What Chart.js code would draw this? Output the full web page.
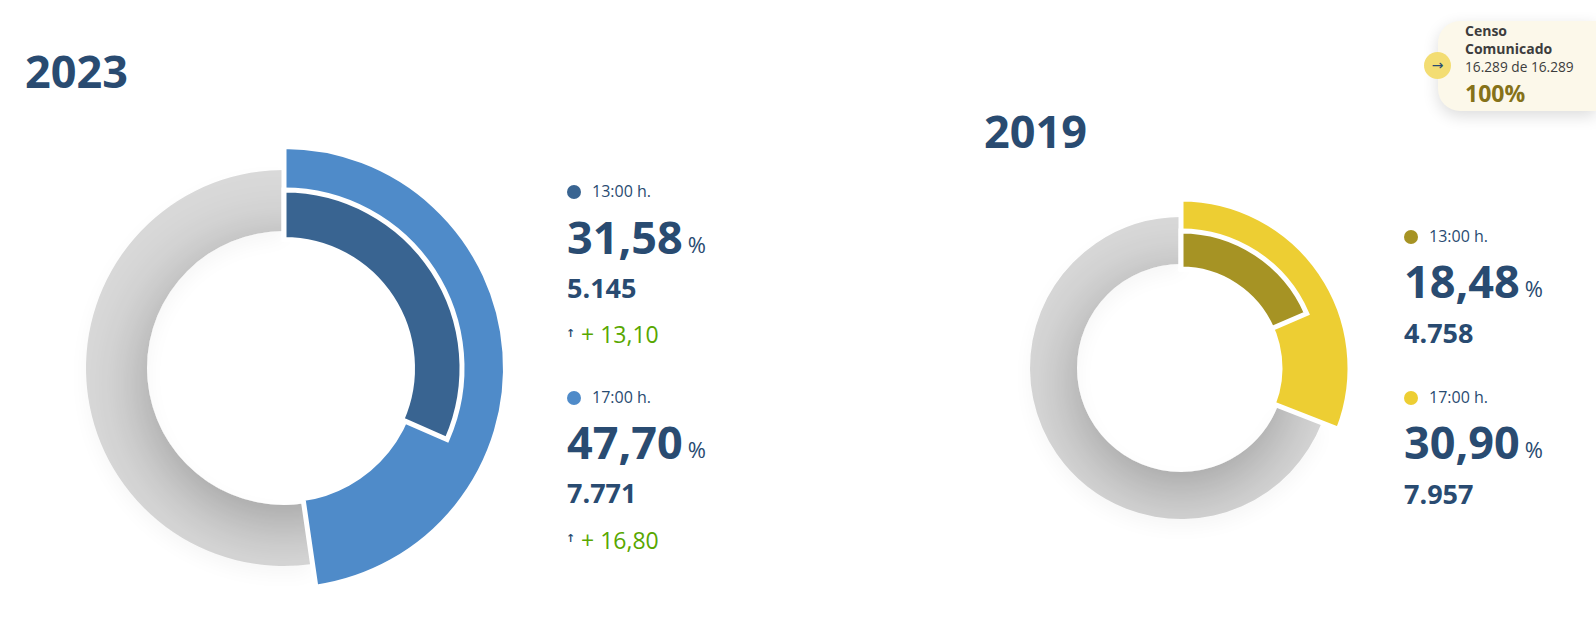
<!DOCTYPE html>
<html>
<head>
<meta charset="utf-8">
<script src="https://cdn.jsdelivr.net/npm/chart.js@4/dist/chart.umd.js"></script>
<style>
  html, body { margin: 0; padding: 0; background: #fff; }
  body { position: relative; width: 1596px; height: 635px; overflow: hidden; font-family: "Open Sans", sans-serif; color: #294b71; }
  canvas { position: absolute; }
  .t { position: absolute; white-space: nowrap; line-height: 1; }
  .year { font-size: 45px; font-weight: 700; }
  .dot { position: absolute; width: 14px; height: 14px; border-radius: 50%; }
  .hour { font-size: 16px; }
  .pct { font-size: 45px; font-weight: 700; }
  .pct small { font-size: 22px; font-weight: 400; margin-left: 5px; position: relative; top: -1px; }
  .count { font-size: 27px; font-weight: 700; }
  .diff { font-size: 23px; color: #58a700; }
  .arrow { font-family: "DejaVu Sans", sans-serif; font-size: 11px; color: #294b71; font-weight: 700; }
  #box { position: absolute; left: 1438px; top: 21px; width: 158px; height: 90px; background: #fcf8ea; border-radius: 22px 0 0 22px; box-shadow: 0 5px 16px rgba(0,0,0,.14); }
  #bullet { position: absolute; left: 1424px; top: 52px; width: 27px; height: 27px; border-radius: 50%; background: #f3dd73; color: #294b71; font-family: "DejaVu Sans", sans-serif; font-size: 14px; line-height: 27px; text-align: center; }
</style>
</head>
<body>
<div id="box"></div>
<div id="bullet">→</div>
<script>
const years = ['2023', '2019'];
const hours = ['13:00 h.', '17:00 h.'];
const pct2023 = [31.58, 47.70];
const pct2019 = [18.48, 30.90];
const count2023 = ['5.145', '7.771'];
const count2019 = ['4.758', '7.957'];
const diff2023 = ['+ 13,10', '+ 16,80'];
const colors2023 = ['#396491', '#4f8bc9'];
const colors2019 = ['#a69324', '#edce33'];
const censusLines = ['Censo', 'Comunicado', '16.289 de 16.289', '100%'];

// soft shadow of the hole falling on the grey ring
const holeShadow = {
    id: 'holeShadow',
    beforeDatasetsDraw(chart) {
        const ctx = chart.ctx;
        ctx.save();
        ctx.shadowColor = 'rgba(0,0,0,0.04)';
        ctx.shadowBlur = 20;
        ctx.shadowOffsetY = 8;
    },
    afterDatasetsDraw(chart) {
        const ctx = chart.ctx;
        ctx.restore();
        const arc = chart.getDatasetMeta(0).data[1];
        ctx.save();
        ctx.beginPath();
        ctx.arc(arc.x, arc.y, arc.outerRadius, arc.startAngle, arc.endAngle);
        ctx.arc(arc.x, arc.y, arc.innerRadius, arc.endAngle, arc.startAngle, true);
        ctx.closePath();
        ctx.clip();
        ctx.shadowColor = 'rgba(0,0,0,0.30)';
        ctx.shadowBlur = 70;
        ctx.shadowOffsetY = 16;
        ctx.fillStyle = '#fff';
        ctx.beginPath();
        ctx.arc(arc.x, arc.y, arc.innerRadius, 0, Math.PI * 2);
        ctx.fill();
        ctx.restore();
    }
};

function ring(box, value, color, outer, inner, rest, border, plugins) {
    const canvas = document.createElement('canvas');
    canvas.style.left = box.left + 'px';
    canvas.style.top = box.top + 'px';
    canvas.style.width = box.size + 'px';
    canvas.style.height = box.size + 'px';
    canvas.width = box.size;
    canvas.height = box.size;
    document.body.appendChild(canvas);
    new Chart(canvas, {
        type: 'doughnut',
        data: {
            datasets: [{
                data: [value, 100 - value],
                backgroundColor: [color, rest],
                borderColor: ['#ffffff', 'transparent'],
                borderWidth: border,
                borderJoinStyle: 'miter',
                radius: outer,
                cutout: (inner / outer * 100) + '%'
            }]
        },
        options: {
            responsive: false,
            animation: false,
            layout: { padding: 0 },
            plugins: { legend: { display: false }, tooltip: { enabled: false } }
        },
        plugins: plugins || []
    });
}

function donut(cx, cy, pcts, colors, r) {
    const size = 2 * (Math.ceil(r.blueOuter) + 30);
    const box = { left: cx - size / 2, top: cy - size / 2, size: size };
    ring(box, pcts[1], 'transparent', r.greyOuter, r.greyInner, '#d9d9d9', 0, [holeShadow]);
    ring(box, pcts[1], colors[1], r.blueOuter, r.blueInner, 'transparent', 5);
    ring(box, pcts[0], colors[0], r.darkOuter, r.darkInner, 'transparent', 5);
}

function text(cls, x, y, html, style) {
    const el = document.createElement('div');
    el.className = 't ' + cls;
    el.style.left = x + 'px';
    el.style.top = y + 'px';
    el.innerHTML = html;
    if (style) Object.assign(el.style, style);
    document.body.appendChild(el);
    return el;
}

function legend(x, y, pctTop, countTop, i, pcts, counts, diffs, colors) {
    const dot = document.createElement('div');
    dot.className = 'dot';
    dot.style.left = (x - 2) + 'px';
    dot.style.top = (y - 7) + 'px';
    dot.style.background = colors[i];
    document.body.appendChild(dot);
    text('hour', x + 23, y - 9, hours[i]);
    text('pct', x - 2, pctTop, pcts[i].toFixed(2).replace('.', ',') + '<small>%</small>');
    text('count', x - 2, countTop, counts[i]);
    if (diffs) {
        text('arrow', x - 3, countTop + 54, '↑');
        text('diff', x + 12, countTop + 49 + i, diffs[i]);
    }
}

donut(284, 368, pct2023, colors2023, { blueOuter: 221.5, blueInner: 132, greyOuter: 198, greyInner: 137, darkOuter: 178, darkInner: 128.5 });
donut(1181, 368, pct2019, colors2019, { blueOuter: 169, blueInner: 99, greyOuter: 151, greyInner: 104, darkOuter: 137, darkInner: 99 });

text('year', 25, 48, years[0]);
text('year', 984, 108, years[1]);

legend(569, 192, 214, 274, 0, pct2023, count2023, diff2023, colors2023);
legend(569, 398, 419, 479, 1, pct2023, count2023, diff2023, colors2023);
legend(1406, 237, 258, 319, 0, pct2019, count2019, null, colors2019);
legend(1406, 398, 419, 480, 1, pct2019, count2019, null, colors2019);

text('c1', 1465, 24, censusLines[0], { fontSize: '14px', fontWeight: 700, color: '#3d3d3d' });
text('c2', 1465, 42, censusLines[1], { fontSize: '14px', fontWeight: 700, color: '#3d3d3d' });
text('c3', 1465, 60, censusLines[2], { fontSize: '13.7px', color: '#3d3d3d' });
text('c4', 1465, 82, censusLines[3], { fontSize: '23px', fontWeight: 700, color: '#867219' });
</script>
</body>
</html>
